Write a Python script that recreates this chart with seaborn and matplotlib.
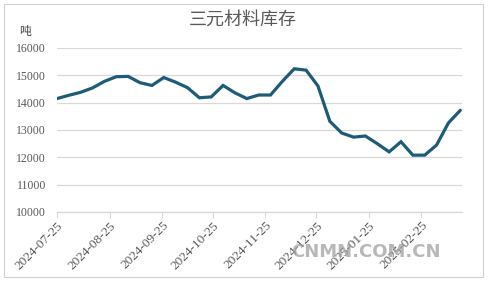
import matplotlib
matplotlib.use("Agg")
import matplotlib.pyplot as plt
from matplotlib.patches import Rectangle
import seaborn as sns
import pandas as pd

# ---- data ----
start_date = "2024-07-25"
n_weeks = 35
inventory = [14150, 14270, 14380, 14540, 14780, 14950, 14960, 14730, 14630, 14920,
             14750, 14550, 14180, 14210, 14630, 14360, 14150, 14280, 14280, 14780,
             15240, 15190, 14610, 13320, 12890, 12740, 12780, 12500, 12200, 12570,
             12080, 12080, 12450, 13260, 13720]
title = "三元材料库存"
unit = "吨"
y_ticks = [10000, 11000, 12000, 13000, 14000, 15000, 16000]
x_tick_labels = ["2024-07-25", "2024-08-25", "2024-09-25", "2024-10-25",
                 "2024-11-25", "2024-12-25", "2025-01-25", "2025-02-25"]

dates = pd.date_range(start_date, periods=n_weeks, freq="7D")
df = pd.DataFrame({"date": dates, "inventory": inventory})

sns.set_theme(style="white")
plt.rcParams["font.family"] = ["Noto Sans CJK SC", "DejaVu Sans"]

fig = plt.figure(figsize=(4.88, 2.81), dpi=100)
fig.patch.set_facecolor("white")

# spreadsheet-like frame
fig.patches.append(Rectangle((4 / 488, 4 / 281), 479 / 488, 273 / 281,
                             transform=fig.transFigure, fill=False,
                             edgecolor="#D0D0D0", linewidth=0.8))

ax = fig.add_axes([57 / 488, 1 - 212 / 281, 405 / 488, 164 / 281])
sns.lineplot(data=df, x="date", y="inventory", ax=ax, color="#1D5B78",
             linewidth=2.3, solid_joinstyle="miter")

ax.set_ylim(10000, 16000)
ax.set_yticks(y_ticks)
ax.set_yticklabels([str(v) for v in y_ticks], family="Liberation Serif",
                   fontsize=8.5, color="#595959")
ax.yaxis.grid(True, color="#D9D9D9", linewidth=0.9)
ax.xaxis.grid(False)

tick_dates = pd.to_datetime(x_tick_labels)
ax.set_xlim(pd.Timestamp(start_date), pd.Timestamp("2025-03-21"))
ax.set_xticks(tick_dates)
ax.set_xticklabels(x_tick_labels, rotation=45, ha="right", va="top",
                   rotation_mode="anchor", family="Liberation Serif",
                   fontsize=9.5, color="#595959")
ax.tick_params(axis="x", which="major", length=4, width=0.8, color="#D9D9D9",
               bottom=True, pad=1.5)
ax.tick_params(axis="y", length=0, pad=8)

for s in ["top", "right", "left"]:
    ax.spines[s].set_visible(False)
ax.spines["bottom"].set_color("#D9D9D9")
ax.spines["bottom"].set_linewidth(0.9)
ax.set_xlabel("")
ax.set_ylabel("")

fig.text(243 / 488, 1 - 20 / 281, title, ha="center", va="center",
         fontsize=13, fontweight="medium", color="#595959")
fig.text(25 / 488, 1 - 31 / 281, unit, ha="center", va="center",
         fontsize=8.5, color="#404040")

fig.text(366 / 488, 1 - 252 / 281, "CNMN.COM.CN", ha="center", va="center",
         fontsize=13, fontweight="bold", color="#A0A0A0", alpha=0.75,
         family="DejaVu Sans")

fig.savefig("out.png", dpi=100)
